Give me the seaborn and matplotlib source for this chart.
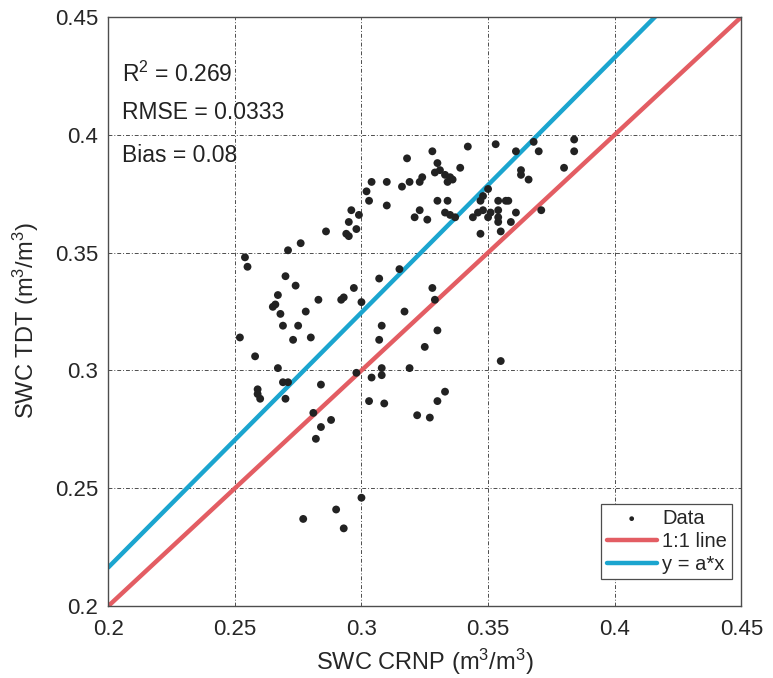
import numpy as np
import pandas as pd
import matplotlib
matplotlib.use('Agg')
import matplotlib.pyplot as plt
import seaborn as sns

# Donnees (SWC CRNP vs SWC TDT)
swc_crnp = [
    0.318, 0.304, 0.310, 0.302, 0.316, 0.319, 0.323, 0.303, 0.310, 0.323,
    0.321, 0.296, 0.299, 0.295, 0.298, 0.294, 0.295, 0.286, 0.276, 0.271,
    0.254, 0.255, 0.270, 0.274, 0.267, 0.265, 0.266, 0.283, 0.292, 0.293,
    0.297, 0.300, 0.307, 0.315, 0.328, 0.342, 0.353, 0.361, 0.368, 0.370,
    0.384, 0.384, 0.330, 0.329, 0.331, 0.333, 0.335, 0.334, 0.336, 0.339,
    0.324, 0.380, 0.363, 0.363, 0.366, 0.350, 0.348, 0.347, 0.354, 0.357,
    0.358, 0.330, 0.334, 0.326, 0.333, 0.335, 0.337, 0.344, 0.346, 0.348,
    0.350, 0.351, 0.354, 0.354, 0.354, 0.361, 0.359, 0.371, 0.355, 0.347,
    0.328, 0.329, 0.268, 0.278, 0.317, 0.269, 0.275, 0.308, 0.252, 0.273,
    0.280, 0.307, 0.330, 0.325, 0.258, 0.267, 0.308, 0.319, 0.269, 0.271,
    0.259, 0.259, 0.260, 0.270, 0.284, 0.304, 0.298, 0.308, 0.333, 0.330,
    0.303, 0.309, 0.322, 0.327, 0.281, 0.284, 0.288, 0.282, 0.300, 0.290,
    0.277, 0.293, 0.355,
]
swc_tdt = [
    0.390, 0.380, 0.380, 0.376, 0.378, 0.380, 0.380, 0.372, 0.370, 0.368,
    0.365, 0.368, 0.366, 0.363, 0.360, 0.358, 0.357, 0.359, 0.354, 0.351,
    0.348, 0.344, 0.340, 0.336, 0.332, 0.327, 0.328, 0.330, 0.330, 0.331,
    0.335, 0.329, 0.339, 0.343, 0.393, 0.395, 0.396, 0.393, 0.397, 0.393,
    0.398, 0.393, 0.388, 0.384, 0.385, 0.383, 0.382, 0.380, 0.381, 0.386,
    0.382, 0.386, 0.385, 0.383, 0.381, 0.377, 0.374, 0.372, 0.372, 0.372,
    0.372, 0.372, 0.372, 0.364, 0.367, 0.366, 0.365, 0.365, 0.367, 0.368,
    0.365, 0.367, 0.368, 0.365, 0.363, 0.367, 0.363, 0.368, 0.359, 0.358,
    0.335, 0.330, 0.324, 0.325, 0.325, 0.319, 0.319, 0.319, 0.314, 0.313,
    0.314, 0.313, 0.317, 0.310, 0.306, 0.301, 0.301, 0.301, 0.295, 0.295,
    0.292, 0.290, 0.288, 0.288, 0.294, 0.297, 0.299, 0.298, 0.291, 0.287,
    0.287, 0.286, 0.281, 0.280, 0.282, 0.276, 0.279, 0.271, 0.246, 0.241,
    0.237, 0.233, 0.304,
]
line_x = [0.2, 0.45]
slope_a = 1.082
stats_lines = ['R$^2$ = 0.269', 'RMSE = 0.0333', 'Bias = 0.08']
ticks = [0.2, 0.25, 0.3, 0.35, 0.4, 0.45]
tick_labels = ['0.2', '0.25', '0.3', '0.35', '0.4', '0.45']

sns.set_style('white')
plt.rcParams['font.family'] = ['Liberation Sans', 'DejaVu Sans']
plt.rcParams['mathtext.fontset'] = 'custom'
plt.rcParams['mathtext.rm'] = 'Liberation Sans'
plt.rcParams['mathtext.it'] = 'Liberation Sans:italic'
plt.rcParams['mathtext.default'] = 'regular'

df = pd.DataFrame({'crnp': swc_crnp, 'tdt': swc_tdt})
lines = pd.DataFrame({'x': line_x})
lines['one'] = lines['x']
lines['ax'] = slope_a * lines['x']

fig = plt.figure(figsize=(7.73, 6.78), dpi=100)
ax = fig.add_axes([0.140, 0.106, 0.819, 0.869])

grid_style = dict(color='0.3', lw=0.7, ls=(0, (4, 2, 1, 2)))
for t in ticks[1:-1]:
    ax.axvline(t, zorder=0, **grid_style)
    ax.axhline(t, zorder=0, **grid_style)

sns.lineplot(data=lines, x='x', y='one', ax=ax, color='#e35d63', lw=3.2,
             label='1:1 line', zorder=2)
sns.lineplot(data=lines, x='x', y='ax', ax=ax, color='#1ba5cf', lw=3.2,
             label='y = a*x', zorder=2)
sns.scatterplot(data=df, x='crnp', y='tdt', ax=ax, color='#222222', s=32,
                edgecolor='none', label='Data', zorder=3)

ax.set_xlim(0.2, 0.45)
ax.set_ylim(0.2, 0.45)
ax.set_xticks(ticks)
ax.set_yticks(ticks)
ax.set_xticklabels(tick_labels, fontsize=16)
ax.set_yticklabels(tick_labels, fontsize=16)
ax.tick_params(direction='in', length=4, width=0.8, color='0.3')
ax.tick_params(axis='x', pad=9)
ax.tick_params(axis='y', pad=7)
ax.set_xlabel('SWC CRNP (m$^3$/m$^3$)', fontsize=17, va='center')
ax.set_ylabel('SWC TDT (m$^3$/m$^3$)', fontsize=17, va='center')
ax.xaxis.set_label_coords(0.5, -0.094)
ax.yaxis.set_label_coords(-0.13, 0.485)
for sp in ax.spines.values():
    sp.set_color('0.3')
    sp.set_linewidth(1.0)

for txt, yy in zip(stats_lines, [0.902, 0.837, 0.764]):
    ax.text(0.022, yy, txt, transform=ax.transAxes, fontsize=16.5,
            va='center', ha='left', color='#222222')

# legende: Data en premier
h, l = ax.get_legend_handles_labels()
order = [l.index('Data'), l.index('1:1 line'), l.index('y = a*x')]
leg = ax.legend([h[i] for i in order], [l[i] for i in order],
                loc='lower right', bbox_to_anchor=(0.985, 0.046),
                borderaxespad=0, fontsize=14.5, frameon=True, fancybox=False,
                framealpha=1, edgecolor='0.3', handlelength=2.5,
                handletextpad=0.25, labelspacing=0.2, borderpad=0.25,
                markerscale=0.6)
leg.get_frame().set_linewidth(0.9)

fig.savefig('out.png', dpi=100)
